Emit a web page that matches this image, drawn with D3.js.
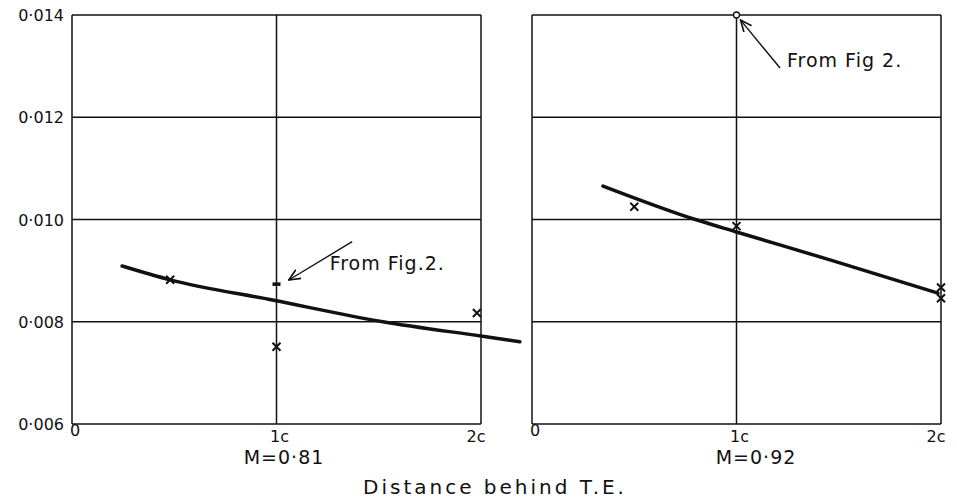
<!DOCTYPE html>
<html>
<head>
<meta charset="utf-8">
<script src="https://cdn.jsdelivr.net/npm/d3@7"></script>
<style>
  body { margin: 0; background: #fff; }
  text { font-family: "DejaVu Sans", sans-serif; fill: #111; }
</style>
</head>
<body>
<div id="chart"></div>
<script>
// y axis ticks (shared by both panels, labels only on the left one)
const yTicks = [0.006, 0.008, 0.010, 0.012, 0.014]
const yTickLabels = ["0·006", "0·008", "0·010", "0·012", "0·014"]
const xTicks = [0, 1, 2]
const xTickLabels = ["0", "1c", "2c"]

// left panel, M = 0.81
const curveLeft = [[0.245, 0.00909], [0.48, 0.00882], [0.98, 0.008425], [1.52, 0.0080], [2.0, 0.00772], [2.19, 0.00761]]
const crossesLeft = [[0.48, 0.00882], [1.0, 0.00751], [1.98, 0.00817]]
const figPointLeft = [1.0, 0.00874]

// right panel, M = 0.92
const curveRight = [[0.347, 0.010655], [0.807, 0.00999], [1.0, 0.009756], [1.457, 0.00921], [1.985, 0.00856]]
const crossesRight = [[0.5, 0.01025], [1.0, 0.00987], [2.0, 0.00867], [2.0, 0.00846]]
const figPointRight = [1.0, 0.014]

const width = 957
const height = 500

const svg = d3.select("#chart").append("svg")
    .attr("width", width)
    .attr("height", height)

const y = d3.scaleLinear().domain([0.006, 0.014]).range([424, 15])

const panels = [
    {x: d3.scaleLinear().domain([0, 2]).range([72, 481]), curve: curveLeft, crosses: crossesLeft,
     fig: figPointLeft, figMark: "bar", label: "M=0·81", labelX: 284,
     note: {text: "From Fig.2.", from: [1.37, 0.009566], to: [1.06, 0.008817], tx: 1.26, ty: 0.009012}},
    {x: d3.scaleLinear().domain([0, 2]).range([532, 941]), curve: curveRight, crosses: crossesRight,
     fig: figPointRight, figMark: "circle", label: "M=0·92", labelX: 756,
     note: {text: "From Fig 2.", from: [1.213, 0.012963], to: [1.02, 0.01390], tx: 1.247, ty: 0.012983}}
]

// arrow head
svg.append("defs").append("marker")
    .attr("id", "arrow")
    .attr("viewBox", "0 0 10 10")
    .attr("refX", 9).attr("refY", 5)
    .attr("markerWidth", 9).attr("markerHeight", 9)
    .attr("orient", "auto")
    .append("path")
    .attr("d", "M0,1 L9,5 L0,9")
    .attr("fill", "none")
    .attr("stroke", "#111")
    .attr("stroke-width", 1.3)

const line = d3.line().curve(d3.curveMonotoneX)

panels.forEach((p, i) => {
    const x = p.x
    const g = svg.append("g")
    const x0 = x.range()[0], x1 = x.range()[1]

    // horizontal grid lines
    g.selectAll(".hgrid")
        .data(yTicks)
        .enter().append("line")
        .attr("x1", x0).attr("x2", x1)
        .attr("y1", d => y(d)).attr("y2", d => y(d))
        .attr("stroke", "#111").attr("stroke-width", 1.5)

    // vertical grid lines
    g.selectAll(".vgrid")
        .data(xTicks)
        .enter().append("line")
        .attr("x1", d => x(d)).attr("x2", d => x(d))
        .attr("y1", y(0.014)).attr("y2", y(0.006))
        .attr("stroke", "#111").attr("stroke-width", 1.5)

    // x tick labels
    g.selectAll(".xlab")
        .data(xTicks)
        .enter().append("text")
        .attr("x", (d, j) => x(d) + (j == 2 ? -5 : 3))
        .attr("y", (d, j) => j == 0 ? 436 : 442)
        .attr("text-anchor", "middle")
        .style("font-size", "16px")
        .text((d, j) => xTickLabels[j])

    // panel label
    g.append("text")
        .attr("x", p.labelX).attr("y", 464)
        .attr("text-anchor", "middle")
        .style("font-size", "19px")
        .style("letter-spacing", "1px")
        .text(p.label)

    // fitted curve
    g.append("path")
        .attr("d", line(p.curve.map(d => [x(d[0]), y(d[1])])))
        .attr("fill", "none")
        .attr("stroke", "#111")
        .attr("stroke-width", 3.5)
        .attr("stroke-linecap", "round")

    // crosses
    const s = 4
    g.selectAll(".cross")
        .data(p.crosses)
        .enter().append("path")
        .attr("d", d => {
            const cx = x(d[0]), cy = y(d[1])
            return `M${cx - s},${cy - s}L${cx + s},${cy + s}M${cx - s},${cy + s}L${cx + s},${cy - s}`
        })
        .attr("stroke", "#111").attr("stroke-width", 2)

    // point from Fig. 2
    if (p.figMark == "bar") {
        g.append("rect")
            .attr("x", x(p.fig[0]) - 4).attr("y", y(p.fig[1]) - 1.5)
            .attr("width", 8).attr("height", 3.5)
            .attr("fill", "#111")
    } else {
        g.append("circle")
            .attr("cx", x(p.fig[0])).attr("cy", y(p.fig[1]))
            .attr("r", 3)
            .attr("fill", "#fff").attr("stroke", "#111").attr("stroke-width", 1.3)
    }

    // annotation
    g.append("line")
        .attr("x1", x(p.note.from[0])).attr("y1", y(p.note.from[1]))
        .attr("x2", x(p.note.to[0])).attr("y2", y(p.note.to[1]))
        .attr("stroke", "#111").attr("stroke-width", 1.4)
        .attr("marker-end", "url(#arrow)")
    g.append("text")
        .attr("x", x(p.note.tx)).attr("y", y(p.note.ty))
        .style("font-size", "19px")
        .style("letter-spacing", "1px")
        .text(p.note.text)
})

// y tick labels, left panel only
svg.selectAll(".ylab")
    .data(yTicks)
    .enter().append("text")
    .attr("x", 64)
    .attr("y", d => y(d) + 6)
    .attr("text-anchor", "end")
    .style("font-size", "16px")
    .text((d, j) => yTickLabels[j])

// common axis title
svg.append("text")
    .attr("x", 495).attr("y", 494)
    .attr("text-anchor", "middle")
    .style("font-size", "20px")
    .style("letter-spacing", "3px")
    .text("Distance behind T.E.")
</script>
</body>
</html>
